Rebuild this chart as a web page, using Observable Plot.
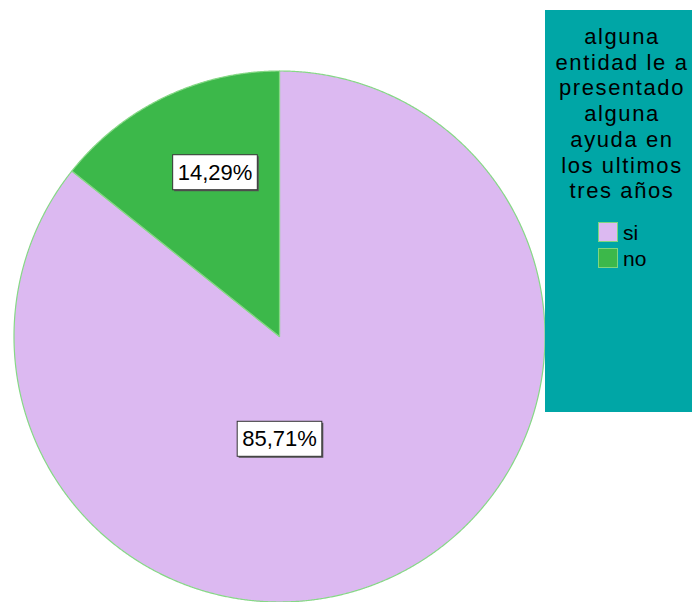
<!DOCTYPE html>
<html><head><meta charset="utf-8">
<script src="https://cdn.jsdelivr.net/npm/d3@7"></script>
<script src="https://cdn.jsdelivr.net/npm/@observablehq/plot@0.6"></script>
<style>
body{margin:0;background:#fff;overflow:hidden}
#wrap{position:relative;width:692px;height:602px}
#chart{position:absolute;left:0;top:0}
#legend{position:absolute;left:545px;top:10px;width:147px;height:402px;background:#00a6a6;font-family:"Liberation Sans",Arial,sans-serif;color:#000}
#ltitle{position:absolute;left:0;top:14px;width:154px;text-align:center;font-size:22px;line-height:25.7px;letter-spacing:1.6px}
.item{position:absolute;left:53px;height:20px;font-size:21px;line-height:20px}
.sw{position:absolute;left:0;top:0;width:18px;height:18px;border:1px solid #7fd67f}
.lab{position:absolute;left:25px;top:1px}
</style></head>
<body><div id="wrap"><div id="chart"></div><div id="legend"><div id="ltitle"></div></div></div>
<script>
const categories = ["si", "no"];
const percents = [85.71, 14.29];
const labels = ["85,71%", "14,29%"];
const colors = ["#dcb9f1", "#3cb84a"];
const legendTitle = ["alguna", "entidad le a", "presentado", "alguna", "ayuda en", "los ultimos", "tres años"];
const legendLabels = ["si", "no"];

// label anchor positions, in units of the pie radius (x right, y up)
const labelAnchors = [[0.0, -0.387], [-0.243, 0.617]];

const pieData = categories.map((c, i) => ({category: c, value: percents[i], label: labels[i], color: colors[i]}));
const arcs = d3.pie().sort(null).value(d => d.value)(pieData);

// polygon points for each slice (clockwise from 12 o'clock)
function slicePoints(a) {
  const pts = [{x: 0, y: 0}];
  const n = Math.max(2, Math.ceil((a.endAngle - a.startAngle) / (Math.PI / 720)));
  for (let k = 0; k <= n; k++) {
    const t = a.startAngle + (a.endAngle - a.startAngle) * k / n;
    pts.push({x: Math.sin(t), y: Math.cos(t)});
  }
  return pts;
}

const labelData = pieData.map((d, i) => ({x: labelAnchors[i][0], y: labelAnchors[i][1], text: d.label}));

const plot = Plot.plot({
  width: 545,
  height: 602,
  marginLeft: 13.5,
  marginRight: 0.5,
  marginTop: 70.5,
  marginBottom: 0.5,
  x: {domain: [-1, 1], axis: null},
  y: {domain: [-1, 1], axis: null},
  marks: [
    ...arcs.map(a => Plot.line(slicePoints(a), {
      x: "x", y: "y", curve: "linear-closed",
      fill: a.data.color, stroke: "#86d886", strokeWidth: 1.2
    })),
    Plot.text(labelData, {
      x: "x", y: "y", text: "text",
      fontSize: 22, fontFamily: "Liberation Sans, Arial, sans-serif", fill: "#000"
    })
  ]
});
document.getElementById("chart").appendChild(plot);

// boxes behind the percentage labels
const ns = "http://www.w3.org/2000/svg";
plot.querySelectorAll('g[aria-label="text"] text').forEach(t => {
  const b = t.getBBox();
  const tr = t.getAttribute("transform");
  const mk = (dx, fill, stroke) => {
    const r = document.createElementNS(ns, "rect");
    r.setAttribute("x", b.x - 5 + dx); r.setAttribute("y", b.y - 5 + dx);
    r.setAttribute("width", b.width + 10); r.setAttribute("height", b.height + 10);
    r.setAttribute("fill", fill);
    if (stroke) { r.setAttribute("stroke", stroke); r.setAttribute("stroke-width", 1); }
    if (tr) r.setAttribute("transform", tr);
    t.parentNode.insertBefore(r, t);
  };
  mk(1.5, "#555", null);
  mk(0, "#fff", "#333");
});

// legend
document.getElementById("ltitle").innerHTML = legendTitle.join("<br>");
const leg = document.getElementById("legend");
legendLabels.forEach((l, i) => {
  const it = document.createElement("div");
  it.className = "item";
  it.style.top = (212 + i * 26) + "px";
  it.innerHTML = `<div class="sw" style="background:${colors[i]}"></div><div class="lab">${l}</div>`;
  leg.appendChild(it);
});
</script>
</body></html>
